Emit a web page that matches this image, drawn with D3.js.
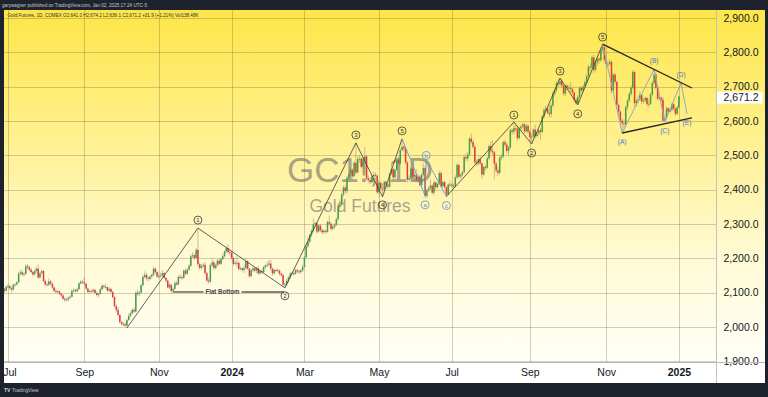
<!DOCTYPE html>
<html>
<head>
<meta charset="utf-8">
<script src="https://cdn.jsdelivr.net/npm/d3@7"></script>
<style>
  html, body { margin: 0; padding: 0; background: #1e222d; }
  svg { display: block; }
</style>
</head>
<body>
<svg id="chart" width="768" height="397"></svg>
<script>
// Daily bars [high, low, close], open taken as the previous close
const firstOpen = 2110
const jun23 = [[2114,2098,2106],[2121,2102,2117]]
const jul23 = [[2125,2112,2119],[2124,2108,2113],[2117,2100,2109],[2127,2106,2123],[2128,2117,2124],[2134,2120,2130],[2160,2128,2155],[2166,2151,2159],[2167,2148,2153],[2160,2147,2155],[2182,2151,2177],[2184,2168,2174],[2180,2162,2167],[2172,2156,2160],[2164,2148,2153],[2167,2150,2163],[2175,2158,2170],[2182,2140,2144],[2161,2141,2157],[2167,2153,2163]]
const aug23 = [[2166,2130,2134],[2138,2120,2124],[2129,2118,2123],[2142,2119,2133],[2136,2122,2126],[2129,2110,2115],[2119,2102,2105],[2112,2098,2102],[2108,2099,2104],[2106,2093,2097],[2100,2087,2092],[2096,2079,2082],[2087,2073,2079],[2085,2074,2080],[2089,2076,2085],[2093,2082,2088],[2110,2086,2105],[2114,2101,2107],[2112,2099,2104],[2114,2101,2110],[2131,2108,2127],[2137,2124,2132],[2138,2126,2130]]
const sep23 = [[2146,2122,2126],[2129,2109,2112],[2115,2099,2102],[2108,2098,2105],[2110,2100,2104],[2113,2101,2108],[2111,2096,2099],[2103,2089,2093],[2100,2086,2096],[2114,2094,2110],[2124,2107,2120],[2123,2113,2117],[2126,2111,2116],[2118,2102,2106],[2116,2103,2111],[2114,2098,2102],[2105,2084,2087],[2090,2057,2060],[2066,2043,2050],[2058,2031,2035]]
const oct23 = [[2038,2010,2014],[2018,2004,2009],[2015,2002,2008],[2013,2000,2004],[2024,1997,2020],[2040,2018,2032],[2045,2028,2040],[2055,2037,2050],[2056,2040,2045],[2104,2043,2100],[2110,2090,2096],[2106,2090,2100],[2127,2098,2122],[2152,2118,2146],[2162,2141,2152],[2158,2135,2143],[2148,2133,2140],[2151,2136,2147],[2156,2141,2152],[2176,2148,2170],[2173,2155,2160],[2164,2143,2147]]
const nov23 = [[2156,2140,2148],[2158,2144,2150],[2166,2146,2157],[2160,2140,2143],[2146,2130,2135],[2138,2112,2115],[2128,2111,2123],[2126,2097,2105],[2115,2101,2111],[2135,2108,2128],[2134,2120,2124],[2150,2121,2146],[2154,2140,2145],[2150,2137,2143],[2168,2140,2164],[2170,2150,2155],[2171,2152,2167],[2183,2163,2178],[2211,2175,2206],[2218,2200,2209],[2213,2196,2201]]
const dec23 = [[2230,2198,2225],[2288,2176,2183],[2188,2166,2172],[2183,2167,2178],[2186,2172,2181],[2189,2152,2157],[2160,2130,2135],[2143,2126,2132],[2184,2129,2180],[2200,2175,2188],[2194,2166,2172],[2184,2168,2180],[2197,2176,2193],[2199,2180,2184],[2202,2180,2198],[2214,2194,2206],[2224,2203,2220],[2236,2216,2230],[2241,2214,2218],[2224,2209,2216]]
const jan24 = [[2222,2196,2201],[2204,2178,2184],[2192,2180,2186],[2206,2172,2187],[2190,2163,2169],[2176,2164,2171],[2175,2161,2166],[2182,2157,2171],[2199,2168,2191],[2194,2166,2170],[2172,2143,2148],[2169,2146,2165],[2177,2160,2171],[2174,2159,2164],[2175,2157,2171],[2178,2152,2156],[2167,2152,2163],[2168,2155,2160],[2178,2157,2174],[2183,2170,2179],[2191,2174,2181]]
const feb24 = [[2196,2177,2185],[2195,2164,2170],[2173,2150,2156],[2170,2153,2166],[2170,2160,2165],[2170,2158,2164],[2168,2150,2155],[2159,2146,2151],[2155,2118,2123],[2130,2114,2124],[2140,2120,2135],[2148,2128,2144],[2160,2140,2155],[2162,2150,2157],[2162,2149,2155],[2170,2152,2166],[2169,2157,2162],[2167,2155,2160],[2168,2155,2165],[2182,2160,2175]]
const mar24 = [[2207,2172,2203],[2240,2200,2235],[2262,2230,2248],[2272,2244,2268],[2286,2262,2280],[2316,2276,2299],[2307,2292,2302],[2306,2272,2278],[2300,2274,2295],[2300,2276,2282],[2288,2270,2276],[2285,2272,2280],[2283,2270,2277],[2310,2274,2306],[2325,2296,2301],[2304,2280,2286],[2297,2282,2292],[2303,2287,2298],[2318,2294,2314],[2355,2310,2350]]
const apr24 = [[2372,2346,2356],[2390,2352,2386],[2412,2380,2406],[2414,2390,2396],[2440,2388,2435],[2452,2428,2445],[2465,2440,2458],[2462,2430,2439],[2483,2436,2478],[2537,2444,2450],[2496,2447,2489],[2500,2478,2490],[2495,2462,2467],[2490,2463,2485],[2524,2478,2497],[2500,2426,2433],[2442,2420,2428],[2436,2416,2422],[2443,2418,2438],[2452,2432,2443],[2450,2432,2441],[2445,2388,2392]]
const may24 = [[2427,2377,2420],[2424,2398,2403],[2418,2380,2401],[2427,2398,2423],[2426,2408,2414],[2418,2402,2409],[2451,2405,2446],[2478,2441,2460],[2463,2430,2436],[2462,2432,2458],[2490,2454,2485],[2497,2470,2476],[2520,2472,2515],[2548,2512,2525],[2530,2510,2520],[2525,2474,2479],[2484,2420,2429],[2442,2424,2434],[2466,2430,2461],[2464,2432,2438],[2450,2426,2443],[2460,2422,2427]]
const jun24 = [[2446,2420,2438],[2443,2408,2414],[2448,2410,2443],[2476,2438,2463],[2468,2375,2382],[2403,2376,2399],[2410,2393,2404],[2430,2400,2412],[2416,2386,2391],[2426,2385,2421],[2424,2400,2407],[2421,2402,2417],[2456,2414,2448],[2454,2405,2410],[2426,2406,2422],[2426,2402,2407],[2410,2379,2386],[2419,2383,2415],[2426,2408,2414]]
const jul24 = [[2420,2405,2412],[2418,2402,2410],[2442,2407,2436],[2478,2432,2472],[2474,2432,2438],[2448,2432,2443],[2456,2438,2451],[2500,2447,2495],[2505,2484,2491],[2510,2482,2502],[2554,2498,2549],[2563,2534,2539],[2545,2518,2525],[2528,2474,2480],[2488,2468,2476],[2494,2472,2489],[2500,2471,2477],[2480,2433,2444],[2470,2440,2466],[2472,2456,2464],[2496,2460,2491],[2532,2487,2527]]
const aug24 = [[2540,2505,2512],[2543,2500,2509],[2515,2430,2476],[2482,2450,2456],[2466,2440,2449],[2497,2444,2493],[2504,2486,2497],[2543,2492,2538],[2545,2524,2531],[2538,2506,2513],[2528,2500,2522],[2578,2518,2573],[2578,2560,2569],[2597,2562,2579],[2588,2570,2578],[2582,2544,2550],[2583,2546,2578],[2590,2570,2584],[2596,2578,2590],[2594,2564,2570],[2592,2566,2586],[2590,2562,2569]]
const sep24 = [[2574,2540,2553],[2562,2533,2555],[2580,2550,2575],[2590,2550,2556],[2568,2552,2564],[2577,2558,2573],[2580,2546,2568],[2618,2564,2613],[2640,2608,2632],[2645,2626,2636],[2640,2618,2624],[2648,2612,2620],[2652,2610,2645],[2686,2640,2680],[2695,2672,2690],[2716,2684,2710],[2722,2700,2708],[2725,2700,2716],[2721,2696,2703],[2706,2674,2680]]
const oct24 = [[2708,2672,2703],[2707,2690,2697],[2705,2688,2696],[2712,2680,2693],[2698,2676,2683],[2686,2655,2662],[2668,2648,2652],[2675,2647,2670],[2702,2666,2697],[2700,2680,2689],[2706,2684,2701],[2718,2696,2713],[2735,2708,2730],[2763,2726,2758],[2768,2746,2756],[2790,2750,2785],[2792,2740,2749],[2776,2744,2771],[2786,2762,2781],[2786,2766,2777],[2812,2772,2808],[2824,2800,2815],[2818,2770,2778]]
const nov24 = [[2790,2758,2766],[2775,2758,2767],[2780,2760,2772],[2776,2680,2689],[2740,2684,2735],[2740,2706,2714],[2716,2640,2647],[2652,2614,2627],[2632,2594,2601],[2606,2565,2593],[2605,2578,2590],[2645,2585,2640],[2664,2632,2659],[2684,2654,2679],[2704,2672,2697],[2749,2692,2743],[2745,2640,2652],[2664,2642,2659],[2672,2652,2663],[2686,2658,2676]]
const dec24 = [[2678,2650,2657],[2666,2650,2660],[2672,2655,2667],[2670,2643,2649],[2664,2640,2650],[2682,2646,2677],[2716,2672,2711],[2751,2706,2735],[2740,2690,2697],[2700,2660,2665],[2674,2660,2668],[2672,2654,2662],[2670,2598,2601],[2620,2597,2609],[2642,2604,2637],[2640,2620,2627],[2637,2624,2633],[2653,2628,2649],[2652,2630,2636],[2640,2614,2621],[2645,2617,2639.3]]
const jan25 = [[2674.2,2636.1,2671.2]]

const monthBars = [jun23, jul23, aug23, sep23, oct23, nov23, dec23, jan24, feb24, mar24, apr24, may24, jun24, jul24, aug24, sep24, oct24, nov24, dec24, jan25]
const tickMonths = [1, 3, 5, 7, 9, 11, 13, 15, 17, 19]
const tickLabels = ['Jul', 'Sep', 'Nov', '2024', 'Mar', 'May', 'Jul', 'Sep', 'Nov', '2025']
const yearTicks = ['2024', '2025']
const priceTicks = [1900, 2000, 2100, 2200, 2300, 2400, 2500, 2600, 2700, 2800, 2900]
const lastPrice = 2671.2

// Wave annotations: [bar index, price]
const wave1 = [[69, 1997], [109, 2288], [158, 2114], [198, 2536], [213, 2379], [224, 2548]]
const wave1Labels = ['', '1', '2', '3', '4', '5']
const abc1 = [[224, 2548], [237, 2382], [237.6, 2488], [249, 2380]]
const abc1Labels = ['', 'a', 'b', 'c']
const wave2 = [[249, 2380], [287, 2597], [297, 2533], [313, 2725], [323, 2647], [337, 2824]]
const wave2Labels = ['', '1', '2', '3', '4', '5']
const tri = [[337, 2824], [348, 2565], [366, 2751], [372, 2597], [381.2, 2711], [384.5, 2621]]
const triLabels = ['', '(A)', '(B)', '(C)', '(D)', '(E)']
const triUpper = [[337, 2824], [387.3, 2696]]
const triLower = [[348, 2565], [387.3, 2609]]
const flatBottom = [[95, 2102], [157.5, 2102]]
const flatBottomText = 'Flat Bottom'

// ---------- layout ----------
const pane = { left: 4, right: 716, top: 10, bottom: 362 }
const axisRight = 765, axisBottom = 383
const FONT = "'Liberation Sans', Arial, sans-serif"

const candles = []
const monthStart = []
let prevClose = firstOpen
monthBars.forEach(m => {
  monthStart.push(candles.length)
  m.forEach(([h, l, c]) => {
    candles.push({ i: candles.length, o: prevClose, h, l, c })
    prevClose = c
  })
})

const x = d3.scaleLinear().domain([0, candles.length - 1]).range([4.45, 678.95])
const y = d3.scaleLinear().domain([1898, 2923.3]).range([pane.bottom, pane.top])

const svg = d3.select('#chart').style('font-family', FONT)
const defs = svg.append('defs')

const grad = defs.append('linearGradient')
  .attr('id', 'bg').attr('gradientUnits', 'userSpaceOnUse')
  .attr('x1', 0).attr('y1', pane.top).attr('x2', 0).attr('y2', pane.bottom)
grad.append('stop').attr('offset', '0%').attr('stop-color', '#fde648')
grad.append('stop').attr('offset', '35%').attr('stop-color', '#fff08c')
grad.append('stop').attr('offset', '70%').attr('stop-color', '#fffad4')
grad.append('stop').attr('offset', '100%').attr('stop-color', '#fffff8')

defs.append('clipPath').attr('id', 'paneClip')
  .append('rect')
  .attr('x', pane.left).attr('y', pane.top)
  .attr('width', pane.right - pane.left).attr('height', pane.bottom - pane.top)

// frame
svg.append('rect').attr('width', 768).attr('height', 397).attr('fill', '#1e222d')
svg.append('rect')
  .attr('x', pane.left).attr('y', pane.top)
  .attr('width', axisRight - pane.left).attr('height', pane.bottom - pane.top)
  .attr('fill', 'url(#bg)')
svg.append('rect')
  .attr('x', pane.left).attr('y', pane.bottom)
  .attr('width', axisRight - pane.left).attr('height', axisBottom - pane.bottom)
  .attr('fill', '#ffffff')

// grid
const grid = svg.append('g').attr('clip-path', 'url(#paneClip)')
  .attr('stroke', 'rgba(90,85,50,0.28)').attr('stroke-width', 1)
priceTicks.forEach(p => {
  const yy = Math.round(y(p)) + 0.5
  grid.append('line').attr('x1', pane.left).attr('x2', pane.right).attr('y1', yy).attr('y2', yy)
})
tickMonths.forEach(mi => {
  const xx = Math.round(x(monthStart[mi])) + 0.5
  grid.append('line').attr('x1', xx).attr('x2', xx).attr('y1', pane.top).attr('y2', pane.bottom)
})

// watermark
svg.append('text')
  .attr('x', 360).attr('y', 181.5).attr('text-anchor', 'middle')
  .attr('font-size', 35).attr('fill', '#75756f').attr('fill-opacity', 0.65)
  .text('GC1!, 1D')
svg.append('text')
  .attr('x', 360).attr('y', 212).attr('text-anchor', 'middle')
  .attr('font-size', 17.5).attr('fill', '#75756f').attr('fill-opacity', 0.65)
  .text('Gold Futures')

// candles
const plot = svg.append('g').attr('clip-path', 'url(#paneClip)')
const UP = '#43a047', DOWN = '#e53935'
plot.selectAll('line.wick')
  .data(candles)
  .join('line')
  .attr('class', 'wick')
  .attr('x1', d => x(d.i)).attr('x2', d => x(d.i))
  .attr('y1', d => y(d.h)).attr('y2', d => y(d.l))
  .attr('stroke', '#8f8a78').attr('stroke-opacity', 0.75).attr('stroke-width', 0.7)
plot.selectAll('rect.body')
  .data(candles)
  .join('rect')
  .attr('class', 'body')
  .attr('x', d => x(d.i) - 0.75)
  .attr('width', 1.5)
  .attr('y', d => y(Math.max(d.o, d.c)))
  .attr('height', d => Math.max(0.9, Math.abs(y(d.o) - y(d.c))))
  .attr('fill', d => d.c >= d.o ? UP : DOWN)

// annotations
const ann = svg.append('g').attr('clip-path', 'url(#paneClip)')
const line = d3.line().x(d => x(d[0])).y(d => y(d[1]))

function path(pts, color, width) {
  ann.append('path').attr('d', line(pts))
    .attr('fill', 'none').attr('stroke', color).attr('stroke-width', width)
    .attr('stroke-linejoin', 'round')
}

function isPeak(pts, k) {
  const nb = k === 0 ? pts[1] : pts[k - 1]
  return pts[k][1] > nb[1]
}

function circled(pts, labels, color, up, down) {
  pts.forEach((p, k) => {
    if (!labels[k]) return
    const cx = x(p[0])
    const cy = y(p[1]) + (isPeak(pts, k) ? -up : down)
    ann.append('circle').attr('cx', cx).attr('cy', cy).attr('r', 4)
      .attr('fill', 'none').attr('stroke', color).attr('stroke-width', 0.8)
    ann.append('text').attr('x', cx).attr('y', cy + 2.1)
      .attr('text-anchor', 'middle').attr('font-size', 6).attr('fill', color)
      .text(labels[k])
  })
}

function plain(pts, labels, color, up, down) {
  pts.forEach((p, k) => {
    if (!labels[k]) return
    const cx = x(p[0])
    const cy = y(p[1]) + (isPeak(pts, k) ? -up : down)
    ann.append('text').attr('x', cx).attr('y', cy + 2.3)
      .attr('text-anchor', 'middle').attr('font-size', 6.6).attr('fill', color)
      .text(labels[k])
  })
}

path(wave1, '#3b3b3b', 0.8)
path(abc1, '#6f93dc', 0.9)
path(wave2, '#3b3b3b', 0.8)
path(tri, '#97a6c6', 1)
path(triUpper, '#262626', 1.3)
path(triLower, '#262626', 1.3)

circled(wave1, wave1Labels, '#333333', 8, 8)
circled(abc1, abc1Labels, '#5f8be0', 4, 9)
circled(wave2, wave2Labels, '#333333', 7, 9)
plain(tri, triLabels, '#4a74cf', 8, 9)

// flat bottom line with label in the gap
const fbY = y(flatBottom[0][1])
const fbX0 = x(flatBottom[0][0]), fbX1 = x(flatBottom[1][0])
const fbMid = (fbX0 + fbX1) / 2 - 6
const fbHalf = 19
ann.append('line').attr('x1', fbX0).attr('x2', fbMid - fbHalf).attr('y1', fbY).attr('y2', fbY)
  .attr('stroke', '#5a5a5a').attr('stroke-width', 1.4)
ann.append('line').attr('x1', fbMid + fbHalf).attr('x2', fbX1).attr('y1', fbY).attr('y2', fbY)
  .attr('stroke', '#5a5a5a').attr('stroke-width', 1.4)
ann.append('text').attr('x', fbMid).attr('y', fbY + 2.2)
  .attr('text-anchor', 'middle').attr('font-size', 6.4).attr('font-weight', 'bold')
  .attr('fill', '#444').attr('textLength', 34).attr('lengthAdjust', 'spacingAndGlyphs')
  .text(flatBottomText)

// pane title
svg.append('text').attr('x', 7.5).attr('y', 17.3)
  .attr('font-size', 4.7).attr('fill', '#2a2e39')
  .attr('textLength', 191).attr('lengthAdjust', 'spacingAndGlyphs')
  .text('Gold Futures, 1D, COMEX  O2,641.0  H2,674.2  L2,636.1  C2,671.2  +31.9 (+1.21%)  Vol138.48K')

// price axis
const fmt = d3.format(',.1f')
const yAxis = svg.append('g')
priceTicks.forEach(p => {
  yAxis.append('text')
    .attr('x', 758.5).attr('y', y(p) + 3.7)
    .attr('text-anchor', 'end').attr('font-size', 10.5).attr('fill', '#131722')
    .text(fmt(p))
})
const ly = y(lastPrice) + 1
yAxis.append('rect').attr('x', 716.5).attr('y', ly - 6).attr('width', 46).attr('height', 12)
  .attr('fill', '#ffffff')
yAxis.append('text').attr('x', 758.5).attr('y', ly + 3.8)
  .attr('text-anchor', 'end').attr('font-size', 10.5).attr('fill', '#131722')
  .text(fmt(lastPrice))

// time axis
tickMonths.forEach((mi, k) => {
  const lbl = tickLabels[k]
  svg.append('text')
    .attr('x', Math.max(10, x(monthStart[mi]) + 0.5)).attr('y', 375.5)
    .attr('text-anchor', 'middle').attr('font-size', 10.5)
    .attr('font-weight', yearTicks.includes(lbl) ? 'bold' : 'normal')
    .attr('fill', '#131722')
    .text(lbl)
})

// separators
svg.append('line').attr('x1', pane.right + 0.5).attr('x2', pane.right + 0.5)
  .attr('y1', pane.top).attr('y2', axisBottom).attr('stroke', '#c3c3bd').attr('stroke-width', 1)
svg.append('line').attr('x1', pane.left).attr('x2', axisRight)
  .attr('y1', pane.bottom + 0.5).attr('y2', pane.bottom + 0.5).attr('stroke', '#b8b8b2').attr('stroke-width', 1)

// header / footer
svg.append('text').attr('x', 2).attr('y', 6.8)
  .attr('font-size', 4.6).attr('fill', '#c5c8d0')
  .attr('textLength', 145).attr('lengthAdjust', 'spacingAndGlyphs')
  .text('garywagner published on TradingView.com, Jan 02, 2025 17:24 UTC-5')
svg.append('text').attr('x', 4).attr('y', 392)
  .attr('font-size', 5).attr('font-weight', 'bold').attr('fill', '#d1d4dc').text('TV')
svg.append('text').attr('x', 12).attr('y', 392)
  .attr('font-size', 4.8).attr('fill', '#c5c8d0').text('TradingView')
</script>
</body>
</html>
